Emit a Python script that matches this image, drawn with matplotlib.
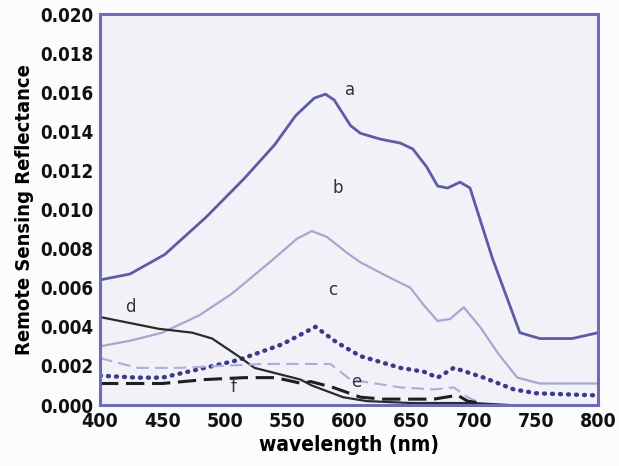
import matplotlib
matplotlib.use("Agg")
import matplotlib.pyplot as plt

# reflectance spectra, wavelength in nm
wl_a = [400, 424, 452, 485, 516, 540, 557, 572, 581, 588, 601, 609, 625, 641, 651, 662, 671, 679, 689, 697, 715, 737, 753, 779, 800]
rrs_a = [0.0064, 0.0067, 0.0077, 0.0096, 0.0116, 0.0133, 0.0148, 0.0157, 0.0159, 0.0156, 0.0143, 0.0139, 0.0136, 0.0134, 0.0131, 0.0122, 0.0112, 0.0111, 0.0114, 0.0111, 0.0075, 0.0037, 0.0034, 0.0034, 0.0037]

wl_b = [400, 425, 450, 480, 506, 538, 558, 570, 582, 600, 609, 630, 649, 660, 671, 681, 692, 705, 720, 735, 753, 800]
rrs_b = [0.0030, 0.0033, 0.0037, 0.0046, 0.0057, 0.0074, 0.0085, 0.0089, 0.0086, 0.0077, 0.0073, 0.0066, 0.0060, 0.0051, 0.0043, 0.0044, 0.0050, 0.0040, 0.0026, 0.0014, 0.0011, 0.0011]

wl_c = [400, 430, 450, 484, 511, 546, 561, 573, 590, 609, 641, 660, 671, 684, 708, 732, 750, 794, 800]
rrs_c = [0.0015, 0.0014, 0.0014, 0.0019, 0.0023, 0.0031, 0.0036, 0.0040, 0.0032, 0.0025, 0.0019, 0.0017, 0.0014, 0.0019, 0.0014, 0.0008, 0.0006, 0.0005, 0.0005]

wl_d = [400, 447, 474, 490, 511, 524, 561, 570, 595, 614, 650, 700, 728]
rrs_d = [0.0045, 0.0039, 0.0037, 0.0034, 0.0025, 0.0019, 0.0013, 0.0010, 0.0004, 0.0002, 0.0001, 0.0001, 0.0]

wl_e = [400, 430, 463, 532, 561, 585, 601, 641, 668, 684, 695, 702]
rrs_e = [0.0024, 0.0019, 0.0019, 0.0021, 0.0021, 0.0021, 0.0013, 0.0009, 0.0008, 0.0009, 0.0004, 0.0002]

wl_f = [400, 450, 484, 516, 541, 562, 569, 587, 609, 627, 668, 687, 695, 705]
rrs_f = [0.0011, 0.0011, 0.0013, 0.0014, 0.0014, 0.0011, 0.0012, 0.0009, 0.0004, 0.0003, 0.0003, 0.0005, 0.0002, 0.0001]

xticks = [400, 450, 500, 550, 600, 650, 700, 750, 800]
yticks = [0.000, 0.002, 0.004, 0.006, 0.008, 0.010, 0.012, 0.014, 0.016, 0.018, 0.020]

bold_narrow = dict(family="DejaVu Sans", weight="bold", stretch="condensed")

fig = plt.figure(figsize=(6.19, 4.66), dpi=100, facecolor="#fcfcfe")
ax = fig.add_axes([0.1616, 0.1309, 0.805, 0.839])
ax.set_facecolor("#f2f1f8")

ax.plot(wl_a, rrs_a, color="#5c5ca6", lw=2.0)
ax.plot(wl_b, rrs_b, color="#a4a8cf", lw=1.6)
ax.plot(wl_c, rrs_c, color="#3b3b8c", lw=3.2, ls=(0, (0.2, 1.6)), dash_capstyle="round")
ax.plot(wl_d, rrs_d, color="#2b2b2b", lw=1.6)
ax.plot(wl_e, rrs_e, color="#aaaed8", lw=1.5, ls=(0, (6, 3)))
ax.plot(wl_f, rrs_f, color="#1e1e1e", lw=2.2, ls=(0, (6, 2.5)))

lbl = dict(fontsize=12, color="#333333", ha="center", va="center")
ax.text(601, 0.0161, "a", **lbl)
ax.text(591, 0.0111, "b", **lbl)
ax.text(587, 0.0059, "c", **lbl)
ax.text(424, 0.0050, "d", **lbl)
ax.text(606, 0.0012, "e", **lbl)
ax.text(507, 0.0009, "f", **lbl)

ax.set_xlim(400, 800)
ax.set_ylim(0, 0.020)
ax.set_xticks(xticks)
ax.set_yticks(yticks)
ax.set_xticklabels([str(v) for v in xticks], fontsize=14, **bold_narrow)
ax.set_yticklabels(["%.3f" % v for v in yticks], fontsize=13.5, **bold_narrow)
ax.tick_params(length=0, pad=5, colors="#111111")

for s in ax.spines.values():
    s.set_color("#6c6cb8")
    s.set_linewidth(2.2)

ax.set_xlabel("wavelength (nm)", fontsize=15, labelpad=3, **bold_narrow)
ax.set_ylabel("Remote Sensing Reflectance", fontsize=14.5, labelpad=4, **bold_narrow)

fig.savefig("out.png", dpi=100, facecolor=fig.get_facecolor())
